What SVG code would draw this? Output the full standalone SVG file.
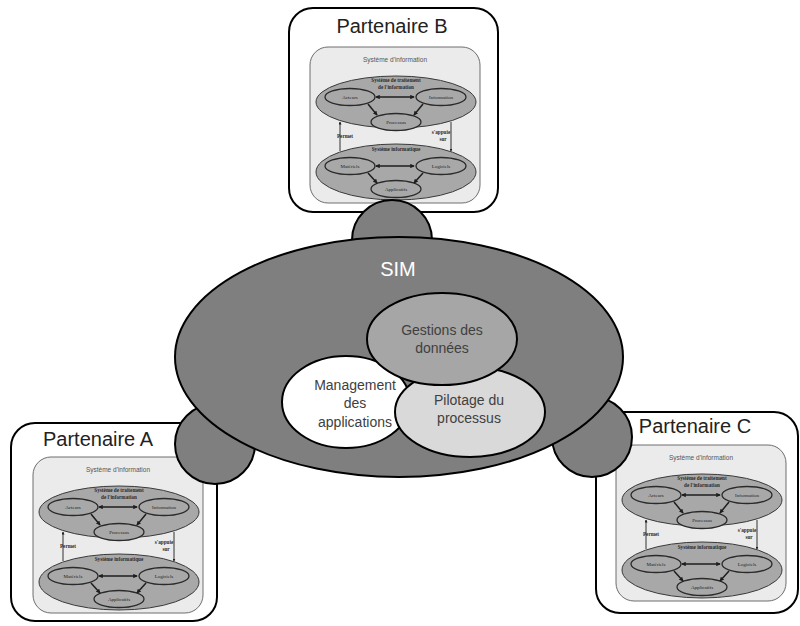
<svg xmlns="http://www.w3.org/2000/svg" xmlns:xlink="http://www.w3.org/1999/xlink" width="800" height="626" viewBox="0 0 800 626">
  <style>
    .partner { fill: #ffffff; stroke: #000000; stroke-width: 2; }
    .partner-title { font-family: "Liberation Sans", Arial, sans-serif; font-size: 20px; fill: #222222; text-anchor: middle; }
    .si-frame { fill: #ebebeb; stroke: #6e6e6e; stroke-width: 1; }
    .si-title { font-family: "Liberation Sans", Arial, sans-serif; font-size: 6.5px; fill: #555555; text-anchor: middle; }
    .si-layer { fill: #a8a8a8; stroke: #3a3a3a; stroke-width: 1; }
    .si-item { fill: #a8a8a8; stroke: #2a2a2a; stroke-width: 1.3; }
    .si-label { font-family: "Liberation Serif", "Times New Roman", serif; font-size: 5px; fill: #222222; text-anchor: middle; }
    .si-head { font-family: "Liberation Serif", "Times New Roman", serif; font-size: 5.2px; font-weight: bold; fill: #2a2a2a; text-anchor: middle; }
    .si-link { stroke: #1e1e1e; stroke-width: 1.5; fill: none; }
    .si-rel { stroke: #333333; stroke-width: 1; fill: none; }
    .tab { fill: #7f7f7f; stroke: #000000; stroke-width: 2; }
    .sim { fill: #7f7f7f; stroke: #000000; stroke-width: 2; }
    .sim-label { font-family: "Liberation Sans", Arial, sans-serif; font-size: 20px; fill: #ffffff; text-anchor: middle; }
    .module { stroke: #000000; stroke-width: 2; }
    .module-label { font-family: "Liberation Sans", Arial, sans-serif; font-size: 14px; fill: #404040; text-anchor: middle; }
  </style>
  <defs>
    <marker id="tip" viewBox="0 0 6 6" refX="5" refY="3" markerWidth="3" markerHeight="3" orient="auto-start-reverse">
      <path d="M0,0 L6,3 L0,6 Z" fill="#1e1e1e"/>
    </marker>
    <!-- Information-system block, reused inside each partner -->
    <g id="si-block">
      <rect class="si-frame" x="0" y="0" width="170" height="156" rx="18"/>
      <text class="si-title" x="85" y="15">Système d'information</text>
      <!-- processing layer -->
      <ellipse class="si-layer" cx="86" cy="55" rx="80" ry="26"/>
      <text class="si-head" x="86" y="35">Système de traitement</text>
      <text class="si-head" x="86" y="42">de l'information</text>
      <ellipse class="si-item" cx="40" cy="50" rx="25" ry="8.5"/>
      <text class="si-label" x="40" y="52">Acteurs</text>
      <ellipse class="si-item" cx="131" cy="50" rx="25" ry="8.5"/>
      <text class="si-label" x="131" y="52">Information</text>
      <ellipse class="si-item" cx="86" cy="75" rx="25" ry="8.5"/>
      <text class="si-label" x="86" y="77">Processus</text>
      <!-- computing layer -->
      <ellipse class="si-layer" cx="86" cy="125" rx="80" ry="28"/>
      <text class="si-head" x="86" y="104">Système informatique</text>
      <ellipse class="si-item" cx="40" cy="119" rx="25" ry="8.5"/>
      <text class="si-label" x="40" y="121">Matériels</text>
      <ellipse class="si-item" cx="131" cy="119" rx="25" ry="8.5"/>
      <text class="si-label" x="131" y="121">Logiciels</text>
      <ellipse class="si-item" cx="86" cy="142" rx="25" ry="8.5"/>
      <text class="si-label" x="86" y="144">Applicatifs</text>
      <!-- links -->
      <g class="connectors">
        <line class="si-link" x1="66" y1="50" x2="104" y2="50" marker-start="url(#tip)" marker-end="url(#tip)"/>
        <path class="si-link" d="M58,57 L67,68" marker-end="url(#tip)"/>
        <path class="si-link" d="M113,57 L104,68" marker-end="url(#tip)"/>
        <line class="si-link" x1="66" y1="119" x2="104" y2="119" marker-start="url(#tip)" marker-end="url(#tip)"/>
        <path class="si-link" d="M58,126 L67,136" marker-end="url(#tip)"/>
        <path class="si-link" d="M113,126 L104,136" marker-end="url(#tip)"/>
        <line class="si-rel" x1="30" y1="104" x2="30" y2="75" marker-end="url(#tip)"/>
        <line class="si-rel" x1="141" y1="75" x2="141" y2="104" marker-end="url(#tip)"/>
      </g>
      <text class="si-head" x="35" y="91" text-anchor="start">Permet</text>
      <text class="si-head" x="131" y="87">s'appuie</text>
      <text class="si-head" x="133" y="94">sur</text>
    </g>
  </defs>

  <!-- partners -->
  <g id="partenaire-b">
    <rect class="partner" x="289" y="8" width="209" height="204" rx="24"/>
    <text class="partner-title" x="392" y="33">Partenaire B</text>
    <use xlink:href="#si-block" href="#si-block" transform="translate(310,47)"/>
  </g>
  <g id="partenaire-a">
    <rect class="partner" x="11" y="423" width="206" height="198" rx="24"/>
    <text class="partner-title" x="98" y="446">Partenaire A</text>
    <use xlink:href="#si-block" href="#si-block" transform="translate(33,457)"/>
  </g>
  <g id="partenaire-c">
    <rect class="partner" x="596" y="412" width="202" height="201" rx="24"/>
    <text class="partner-title" x="695" y="433">Partenaire C</text>
    <use xlink:href="#si-block" href="#si-block" transform="translate(616,445)"/>
  </g>

  <!-- attachment tabs between SIM and partners -->
  <g id="tabs">
    <circle class="tab" cx="392" cy="240" r="40"/>
    <circle class="tab" cx="215" cy="444" r="40"/>
    <circle class="tab" cx="592" cy="437" r="40"/>
  </g>

  <!-- central SIM -->
  <g id="sim">
    <ellipse class="sim" cx="399" cy="357" rx="224" ry="120"/>
    <text class="sim-label" x="398" y="276">SIM</text>
  </g>
  <g id="management">
    <ellipse class="module" fill="#ffffff" cx="346" cy="402" rx="64" ry="46"/>
    <text class="module-label" x="355" y="390">Management</text>
    <text class="module-label" x="355" y="408">des</text>
    <text class="module-label" x="355" y="427">applications</text>
  </g>
  <g id="pilotage">
    <ellipse class="module" fill="#d9d9d9" cx="470" cy="412" rx="75" ry="45"/>
    <text class="module-label" x="469" y="405">Pilotage du</text>
    <text class="module-label" x="469" y="423">processus</text>
  </g>
  <g id="gestion">
    <ellipse class="module" fill="#a6a6a6" cx="442" cy="339" rx="75" ry="46"/>
    <text class="module-label" x="442" y="335">Gestions des</text>
    <text class="module-label" x="442" y="353">données</text>
  </g>
</svg>
